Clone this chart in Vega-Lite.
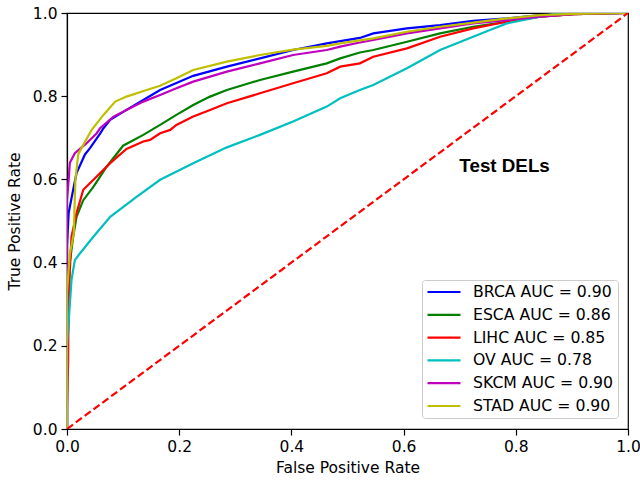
{
  "$schema": "https://vega.github.io/schema/vega-lite/v6.json",
  "width": 561,
  "height": 416,
  "padding": {"left": 67, "top": 13, "right": 12, "bottom": 53},
  "autosize": {"type": "none"},
  "background": "white",
  "config": {
    "view": {"stroke": "black", "strokeWidth": 1.2},
    "font": "DejaVu Sans",
    "axis": {
      "grid": false,
      "domainColor": "black",
      "domainWidth": 1.2,
      "tickColor": "black",
      "tickWidth": 1.2,
      "tickSize": 6,
      "labelColor": "black",
      "titleColor": "black",
      "labelFont": "DejaVu Sans",
      "titleFont": "DejaVu Sans",
      "labelFontSize": 15.5,
      "titleFontSize": 15.5,
      "titleFontWeight": "normal",
      "labelFlush": false,
      "labelOverlap": false,
      "labelPadding": 4
    }
  },
  "datasets": {
    "roc": [
      {"s":"BRCA AUC = 0.90","i":0,"x":0,"y":0},
      {"s":"BRCA AUC = 0.90","i":1,"x":0,"y":0.44},
      {"s":"BRCA AUC = 0.90","i":2,"x":0.003,"y":0.52},
      {"s":"BRCA AUC = 0.90","i":3,"x":0.011,"y":0.575},
      {"s":"BRCA AUC = 0.90","i":4,"x":0.017,"y":0.615},
      {"s":"BRCA AUC = 0.90","i":5,"x":0.032,"y":0.66},
      {"s":"BRCA AUC = 0.90","i":6,"x":0.041,"y":0.675},
      {"s":"BRCA AUC = 0.90","i":7,"x":0.059,"y":0.71},
      {"s":"BRCA AUC = 0.90","i":8,"x":0.065,"y":0.723},
      {"s":"BRCA AUC = 0.90","i":9,"x":0.077,"y":0.743},
      {"s":"BRCA AUC = 0.90","i":10,"x":0.106,"y":0.767},
      {"s":"BRCA AUC = 0.90","i":11,"x":0.136,"y":0.791},
      {"s":"BRCA AUC = 0.90","i":12,"x":0.166,"y":0.815},
      {"s":"BRCA AUC = 0.90","i":13,"x":0.195,"y":0.832},
      {"s":"BRCA AUC = 0.90","i":14,"x":0.225,"y":0.849},
      {"s":"BRCA AUC = 0.90","i":15,"x":0.285,"y":0.871},
      {"s":"BRCA AUC = 0.90","i":16,"x":0.344,"y":0.891},
      {"s":"BRCA AUC = 0.90","i":17,"x":0.403,"y":0.911},
      {"s":"BRCA AUC = 0.90","i":18,"x":0.463,"y":0.927},
      {"s":"BRCA AUC = 0.90","i":19,"x":0.522,"y":0.94},
      {"s":"BRCA AUC = 0.90","i":20,"x":0.546,"y":0.951},
      {"s":"BRCA AUC = 0.90","i":21,"x":0.606,"y":0.963},
      {"s":"BRCA AUC = 0.90","i":22,"x":0.665,"y":0.971},
      {"s":"BRCA AUC = 0.90","i":23,"x":0.724,"y":0.981},
      {"s":"BRCA AUC = 0.90","i":24,"x":0.784,"y":0.987},
      {"s":"BRCA AUC = 0.90","i":25,"x":0.843,"y":0.995},
      {"s":"BRCA AUC = 0.90","i":26,"x":0.903,"y":0.998},
      {"s":"BRCA AUC = 0.90","i":27,"x":1,"y":1},

      {"s":"ESCA AUC = 0.86","i":0,"x":0,"y":0},
      {"s":"ESCA AUC = 0.86","i":1,"x":0,"y":0.18},
      {"s":"ESCA AUC = 0.86","i":2,"x":0.002,"y":0.24},
      {"s":"ESCA AUC = 0.86","i":3,"x":0.005,"y":0.40},
      {"s":"ESCA AUC = 0.86","i":4,"x":0.011,"y":0.462},
      {"s":"ESCA AUC = 0.86","i":5,"x":0.017,"y":0.51},
      {"s":"ESCA AUC = 0.86","i":6,"x":0.029,"y":0.55},
      {"s":"ESCA AUC = 0.86","i":7,"x":0.047,"y":0.582},
      {"s":"ESCA AUC = 0.86","i":8,"x":0.071,"y":0.631},
      {"s":"ESCA AUC = 0.86","i":9,"x":0.1,"y":0.681},
      {"s":"ESCA AUC = 0.86","i":10,"x":0.136,"y":0.707},
      {"s":"ESCA AUC = 0.86","i":11,"x":0.166,"y":0.731},
      {"s":"ESCA AUC = 0.86","i":12,"x":0.195,"y":0.755},
      {"s":"ESCA AUC = 0.86","i":13,"x":0.225,"y":0.779},
      {"s":"ESCA AUC = 0.86","i":14,"x":0.255,"y":0.799},
      {"s":"ESCA AUC = 0.86","i":15,"x":0.285,"y":0.815},
      {"s":"ESCA AUC = 0.86","i":16,"x":0.344,"y":0.839},
      {"s":"ESCA AUC = 0.86","i":17,"x":0.403,"y":0.859},
      {"s":"ESCA AUC = 0.86","i":18,"x":0.463,"y":0.879},
      {"s":"ESCA AUC = 0.86","i":19,"x":0.487,"y":0.891},
      {"s":"ESCA AUC = 0.86","i":20,"x":0.522,"y":0.905},
      {"s":"ESCA AUC = 0.86","i":21,"x":0.546,"y":0.911},
      {"s":"ESCA AUC = 0.86","i":22,"x":0.606,"y":0.931},
      {"s":"ESCA AUC = 0.86","i":23,"x":0.665,"y":0.951},
      {"s":"ESCA AUC = 0.86","i":24,"x":0.724,"y":0.967},
      {"s":"ESCA AUC = 0.86","i":25,"x":0.784,"y":0.979},
      {"s":"ESCA AUC = 0.86","i":26,"x":0.843,"y":0.991},
      {"s":"ESCA AUC = 0.86","i":27,"x":0.903,"y":0.997},
      {"s":"ESCA AUC = 0.86","i":28,"x":1,"y":1},

      {"s":"LIHC AUC = 0.85","i":0,"x":0,"y":0},
      {"s":"LIHC AUC = 0.85","i":1,"x":0,"y":0.05},
      {"s":"LIHC AUC = 0.85","i":2,"x":0.002,"y":0.16},
      {"s":"LIHC AUC = 0.85","i":3,"x":0.003,"y":0.33},
      {"s":"LIHC AUC = 0.85","i":4,"x":0.005,"y":0.38},
      {"s":"LIHC AUC = 0.85","i":5,"x":0.008,"y":0.462},
      {"s":"LIHC AUC = 0.85","i":6,"x":0.017,"y":0.519},
      {"s":"LIHC AUC = 0.85","i":7,"x":0.029,"y":0.575},
      {"s":"LIHC AUC = 0.85","i":8,"x":0.053,"y":0.607},
      {"s":"LIHC AUC = 0.85","i":9,"x":0.077,"y":0.639},
      {"s":"LIHC AUC = 0.85","i":10,"x":0.106,"y":0.673},
      {"s":"LIHC AUC = 0.85","i":11,"x":0.136,"y":0.691},
      {"s":"LIHC AUC = 0.85","i":12,"x":0.148,"y":0.695},
      {"s":"LIHC AUC = 0.85","i":13,"x":0.166,"y":0.711},
      {"s":"LIHC AUC = 0.85","i":14,"x":0.184,"y":0.719},
      {"s":"LIHC AUC = 0.85","i":15,"x":0.195,"y":0.731},
      {"s":"LIHC AUC = 0.85","i":16,"x":0.225,"y":0.751},
      {"s":"LIHC AUC = 0.85","i":17,"x":0.255,"y":0.767},
      {"s":"LIHC AUC = 0.85","i":18,"x":0.285,"y":0.783},
      {"s":"LIHC AUC = 0.85","i":19,"x":0.344,"y":0.807},
      {"s":"LIHC AUC = 0.85","i":20,"x":0.403,"y":0.831},
      {"s":"LIHC AUC = 0.85","i":21,"x":0.463,"y":0.855},
      {"s":"LIHC AUC = 0.85","i":22,"x":0.487,"y":0.871},
      {"s":"LIHC AUC = 0.85","i":23,"x":0.522,"y":0.879},
      {"s":"LIHC AUC = 0.85","i":24,"x":0.546,"y":0.895},
      {"s":"LIHC AUC = 0.85","i":25,"x":0.606,"y":0.915},
      {"s":"LIHC AUC = 0.85","i":26,"x":0.665,"y":0.943},
      {"s":"LIHC AUC = 0.85","i":27,"x":0.724,"y":0.963},
      {"s":"LIHC AUC = 0.85","i":28,"x":0.784,"y":0.979},
      {"s":"LIHC AUC = 0.85","i":29,"x":0.843,"y":0.991},
      {"s":"LIHC AUC = 0.85","i":30,"x":0.903,"y":0.997},
      {"s":"LIHC AUC = 0.85","i":31,"x":1,"y":1},

      {"s":"OV AUC = 0.78","i":0,"x":0,"y":0},
      {"s":"OV AUC = 0.78","i":1,"x":0,"y":0.2},
      {"s":"OV AUC = 0.78","i":2,"x":0.003,"y":0.26},
      {"s":"OV AUC = 0.78","i":3,"x":0.008,"y":0.358},
      {"s":"OV AUC = 0.78","i":4,"x":0.014,"y":0.406},
      {"s":"OV AUC = 0.78","i":5,"x":0.023,"y":0.422},
      {"s":"OV AUC = 0.78","i":6,"x":0.047,"y":0.462},
      {"s":"OV AUC = 0.78","i":7,"x":0.077,"y":0.51},
      {"s":"OV AUC = 0.78","i":8,"x":0.124,"y":0.558},
      {"s":"OV AUC = 0.78","i":9,"x":0.166,"y":0.599},
      {"s":"OV AUC = 0.78","i":10,"x":0.225,"y":0.639},
      {"s":"OV AUC = 0.78","i":11,"x":0.285,"y":0.677},
      {"s":"OV AUC = 0.78","i":12,"x":0.344,"y":0.707},
      {"s":"OV AUC = 0.78","i":13,"x":0.403,"y":0.739},
      {"s":"OV AUC = 0.78","i":14,"x":0.463,"y":0.775},
      {"s":"OV AUC = 0.78","i":15,"x":0.487,"y":0.795},
      {"s":"OV AUC = 0.78","i":16,"x":0.522,"y":0.815},
      {"s":"OV AUC = 0.78","i":17,"x":0.546,"y":0.827},
      {"s":"OV AUC = 0.78","i":18,"x":0.606,"y":0.867},
      {"s":"OV AUC = 0.78","i":19,"x":0.665,"y":0.911},
      {"s":"OV AUC = 0.78","i":20,"x":0.724,"y":0.943},
      {"s":"OV AUC = 0.78","i":21,"x":0.754,"y":0.959},
      {"s":"OV AUC = 0.78","i":22,"x":0.784,"y":0.975},
      {"s":"OV AUC = 0.78","i":23,"x":0.843,"y":0.991},
      {"s":"OV AUC = 0.78","i":24,"x":0.873,"y":0.999},
      {"s":"OV AUC = 0.78","i":25,"x":1,"y":1},

      {"s":"SKCM AUC = 0.90","i":0,"x":0,"y":0},
      {"s":"SKCM AUC = 0.90","i":1,"x":0,"y":0.55},
      {"s":"SKCM AUC = 0.90","i":2,"x":0.003,"y":0.6},
      {"s":"SKCM AUC = 0.90","i":3,"x":0.005,"y":0.64},
      {"s":"SKCM AUC = 0.90","i":4,"x":0.014,"y":0.663},
      {"s":"SKCM AUC = 0.90","i":5,"x":0.035,"y":0.687},
      {"s":"SKCM AUC = 0.90","i":6,"x":0.053,"y":0.711},
      {"s":"SKCM AUC = 0.90","i":7,"x":0.059,"y":0.723},
      {"s":"SKCM AUC = 0.90","i":8,"x":0.083,"y":0.751},
      {"s":"SKCM AUC = 0.90","i":9,"x":0.106,"y":0.767},
      {"s":"SKCM AUC = 0.90","i":10,"x":0.136,"y":0.787},
      {"s":"SKCM AUC = 0.90","i":11,"x":0.166,"y":0.803},
      {"s":"SKCM AUC = 0.90","i":12,"x":0.195,"y":0.819},
      {"s":"SKCM AUC = 0.90","i":13,"x":0.225,"y":0.835},
      {"s":"SKCM AUC = 0.90","i":14,"x":0.285,"y":0.859},
      {"s":"SKCM AUC = 0.90","i":15,"x":0.344,"y":0.879},
      {"s":"SKCM AUC = 0.90","i":16,"x":0.403,"y":0.899},
      {"s":"SKCM AUC = 0.90","i":17,"x":0.463,"y":0.911},
      {"s":"SKCM AUC = 0.90","i":18,"x":0.487,"y":0.919},
      {"s":"SKCM AUC = 0.90","i":19,"x":0.522,"y":0.929},
      {"s":"SKCM AUC = 0.90","i":20,"x":0.546,"y":0.935},
      {"s":"SKCM AUC = 0.90","i":21,"x":0.606,"y":0.951},
      {"s":"SKCM AUC = 0.90","i":22,"x":0.665,"y":0.963},
      {"s":"SKCM AUC = 0.90","i":23,"x":0.724,"y":0.975},
      {"s":"SKCM AUC = 0.90","i":24,"x":0.784,"y":0.983},
      {"s":"SKCM AUC = 0.90","i":25,"x":0.843,"y":0.991},
      {"s":"SKCM AUC = 0.90","i":26,"x":0.903,"y":0.997},
      {"s":"SKCM AUC = 0.90","i":27,"x":1,"y":1},

      {"s":"STAD AUC = 0.90","i":0,"x":0,"y":0},
      {"s":"STAD AUC = 0.90","i":1,"x":0,"y":0.33},
      {"s":"STAD AUC = 0.90","i":2,"x":0.005,"y":0.42},
      {"s":"STAD AUC = 0.90","i":3,"x":0.012,"y":0.47},
      {"s":"STAD AUC = 0.90","i":4,"x":0.015,"y":0.6},
      {"s":"STAD AUC = 0.90","i":5,"x":0.02,"y":0.66},
      {"s":"STAD AUC = 0.90","i":6,"x":0.029,"y":0.683},
      {"s":"STAD AUC = 0.90","i":7,"x":0.044,"y":0.719},
      {"s":"STAD AUC = 0.90","i":8,"x":0.065,"y":0.755},
      {"s":"STAD AUC = 0.90","i":9,"x":0.086,"y":0.787},
      {"s":"STAD AUC = 0.90","i":10,"x":0.106,"y":0.799},
      {"s":"STAD AUC = 0.90","i":11,"x":0.142,"y":0.815},
      {"s":"STAD AUC = 0.90","i":12,"x":0.166,"y":0.825},
      {"s":"STAD AUC = 0.90","i":13,"x":0.195,"y":0.843},
      {"s":"STAD AUC = 0.90","i":14,"x":0.225,"y":0.863},
      {"s":"STAD AUC = 0.90","i":15,"x":0.285,"y":0.883},
      {"s":"STAD AUC = 0.90","i":16,"x":0.344,"y":0.899},
      {"s":"STAD AUC = 0.90","i":17,"x":0.403,"y":0.912},
      {"s":"STAD AUC = 0.90","i":18,"x":0.463,"y":0.921},
      {"s":"STAD AUC = 0.90","i":19,"x":0.487,"y":0.927},
      {"s":"STAD AUC = 0.90","i":20,"x":0.522,"y":0.934},
      {"s":"STAD AUC = 0.90","i":21,"x":0.546,"y":0.939},
      {"s":"STAD AUC = 0.90","i":22,"x":0.606,"y":0.955},
      {"s":"STAD AUC = 0.90","i":23,"x":0.665,"y":0.967},
      {"s":"STAD AUC = 0.90","i":24,"x":0.724,"y":0.977},
      {"s":"STAD AUC = 0.90","i":25,"x":0.784,"y":0.987},
      {"s":"STAD AUC = 0.90","i":26,"x":0.843,"y":0.995},
      {"s":"STAD AUC = 0.90","i":27,"x":0.903,"y":0.998},
      {"s":"STAD AUC = 0.90","i":28,"x":1,"y":1}
    ],
    "diag": [{"x":0,"y":0},{"x":1,"y":1}],
    "note": [{"x":0.78,"y":0.617,"t":"Test DELs"}]
  },
  "layer": [
    {
      "data": {"name": "roc"},
      "mark": {"type": "line", "strokeWidth": 2.2, "clip": true},
      "encoding": {
        "x": {"field": "x", "type": "quantitative", "scale": {"domain": [0, 1], "nice": false},
              "axis": {"title": "False Positive Rate", "values": [0, 0.2, 0.4, 0.6, 0.8, 1], "format": ".1f", "titlePadding": 6}},
        "y": {"field": "y", "type": "quantitative", "scale": {"domain": [0, 1], "nice": false},
              "axis": {"title": "True Positive Rate", "values": [0, 0.2, 0.4, 0.6, 0.8, 1], "format": ".1f", "titlePadding": 10}},
        "order": {"field": "i", "type": "quantitative"},
        "color": {
          "field": "s", "type": "nominal",
          "scale": {
            "domain": ["BRCA AUC = 0.90", "ESCA AUC = 0.86", "LIHC AUC = 0.85", "OV AUC = 0.78", "SKCM AUC = 0.90", "STAD AUC = 0.90"],
            "range": ["#0000ff", "#008000", "#ff0000", "#00bfbf", "#bf00bf", "#bfbf00"]
          },
          "legend": {
            "title": null,
            "orient": "none",
            "legendX": 355,
            "legendY": 267,
            "symbolType": "stroke",
            "symbolSize": 1089,
            "symbolStrokeWidth": 2.2,
            "clipHeight": 16,
            "rowPadding": 6.8,
            "labelOffset": 11,
            "labelFont": "DejaVu Sans",
            "labelFontSize": 15.7,
            "labelColor": "black",
            "labelLimit": 300,
            "padding": 4,
            "strokeColor": "#cccccc",
            "fillColor": "white",
            "cornerRadius": 3
          }
        }
      }
    },
    {
      "data": {"name": "diag"},
      "mark": {"type": "line", "color": "#ff0000", "strokeWidth": 2.2, "strokeDash": [7.5, 3.5], "clip": true},
      "encoding": {
        "x": {"field": "x", "type": "quantitative"},
        "y": {"field": "y", "type": "quantitative"}
      }
    },
    {
      "data": {"name": "note"},
      "mark": {"type": "text", "font": "Liberation Sans", "fontSize": 18.8, "fontWeight": "bold", "align": "center", "baseline": "alphabetic", "color": "black"},
      "encoding": {
        "x": {"field": "x", "type": "quantitative"},
        "y": {"field": "y", "type": "quantitative"},
        "text": {"field": "t"}
      }
    }
  ]
}
